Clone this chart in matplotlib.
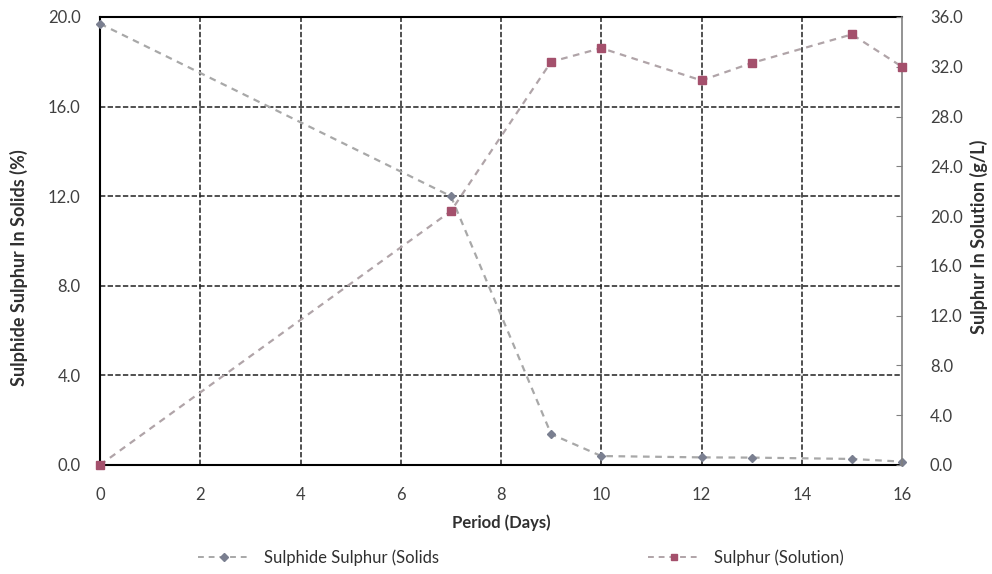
import matplotlib
matplotlib.use("Agg")
import matplotlib.pyplot as plt
from matplotlib.lines import Line2D

days_solids = [0, 7, 9, 10, 12, 13, 15, 16]
sulphide_solids = [19.7, 12.0, 1.38, 0.40, 0.34, 0.33, 0.27, 0.15]
days_solution = [0, 7, 9, 10, 12, 13, 15, 16]
sulphur_solution = [0.0, 20.4, 32.4, 33.5, 30.9, 32.3, 34.6, 32.0]

x_ticks = [0, 2, 4, 6, 8, 10, 12, 14, 16]
left_ticks = [0.0, 4.0, 8.0, 12.0, 16.0, 20.0]
right_ticks = [0, 4, 8, 12, 16, 20, 24, 28, 32, 36]

plt.rcParams['font.family'] = ['Lato', 'DejaVu Sans']

fig = plt.figure(figsize=(9.92, 5.74), dpi=100)
ax = fig.add_axes([0.1008, 0.1899, 0.8085, 0.7805])
ax2 = ax.twinx()

tick_col = '#404040'
ax.set_xlim(0, 16)
ax.set_ylim(0, 20)
ax2.set_ylim(0, 36)

ax.set_xticks(x_ticks)
ax.set_xticklabels([str(t) for t in x_ticks], fontsize=12, color=tick_col)
ax.set_yticks(left_ticks)
ax.set_yticklabels([f"{t:.1f}" for t in left_ticks], fontsize=12, color=tick_col)
ax2.set_yticks(right_ticks)
ax2.set_yticklabels([f"{t:.1f}" for t in right_ticks], fontsize=12, color=tick_col)

ax.tick_params(axis='x', length=0, pad=16)
ax.tick_params(axis='y', length=0, pad=14)
ax2.tick_params(axis='y', direction='in', length=4, color='#808080', pad=20)

# grid
for xv in x_ticks[1:-1]:
    ax.axvline(xv, color='#202020', lw=1.1, ls=(0, (3.5, 1.5)), zorder=1)
for yv in left_ticks[1:-1]:
    ax.axhline(yv, color='#202020', lw=1.1, ls=(0, (3.5, 1.5)), zorder=1)

for s in ['left', 'bottom', 'top']:
    ax.spines[s].set_color('black')
    ax.spines[s].set_linewidth(1.5)
ax.spines['right'].set_visible(False)
for s in ['left', 'bottom', 'top']:
    ax2.spines[s].set_visible(False)
ax2.spines['right'].set_color('#808080')
ax2.spines['right'].set_linewidth(1.2)

ax.plot(days_solids, sulphide_solids, color='#a8a8a8', lw=1.6, ls=(0, (3, 2.5)),
        marker='D', markersize=4.5, markerfacecolor='#7a7f90', markeredgecolor='#7a7f90',
        zorder=3, clip_on=False)
ax2.plot(days_solution, sulphur_solution, color='#b0a4a8', lw=1.6, ls=(0, (3, 2.5)),
         marker='s', markersize=6, markerfacecolor='#a4506c', markeredgecolor='#a4506c',
         zorder=3, clip_on=False)

ax.set_xlabel('Period (Days)', fontsize=12, fontweight='bold', color='#303030', labelpad=8)
ax.set_ylabel('Sulphide Sulphur In Solids (%)', fontsize=13, fontweight='bold', color='#303030')
ax.yaxis.set_label_coords(-0.09, 0.44)
ax2.set_ylabel('Sulphur In Solution (g/L)', fontsize=13, fontweight='bold', color='#303030')
ax2.yaxis.set_label_coords(1.085, 0.51)

h1 = Line2D([], [], color='#a8a8a8', lw=1.4, ls=(0, (3, 2.5)), marker='D', markersize=4,
            markerfacecolor='#7a7f90', markeredgecolor='#7a7f90')
h2 = Line2D([], [], color='#b0a4a8', lw=1.4, ls=(0, (3, 2.5)), marker='s', markersize=5,
            markerfacecolor='#a4506c', markeredgecolor='#a4506c')
fig.legend([h1, h2], ['Sulphide Sulphur (Solids', 'Sulphur (Solution)'],
           loc='center', bbox_to_anchor=(0.525, 0.028), ncol=2, frameon=False,
           fontsize=12, columnspacing=12.5, handlelength=3.2, labelcolor='#303030')

fig.savefig('out.png', dpi=100)
